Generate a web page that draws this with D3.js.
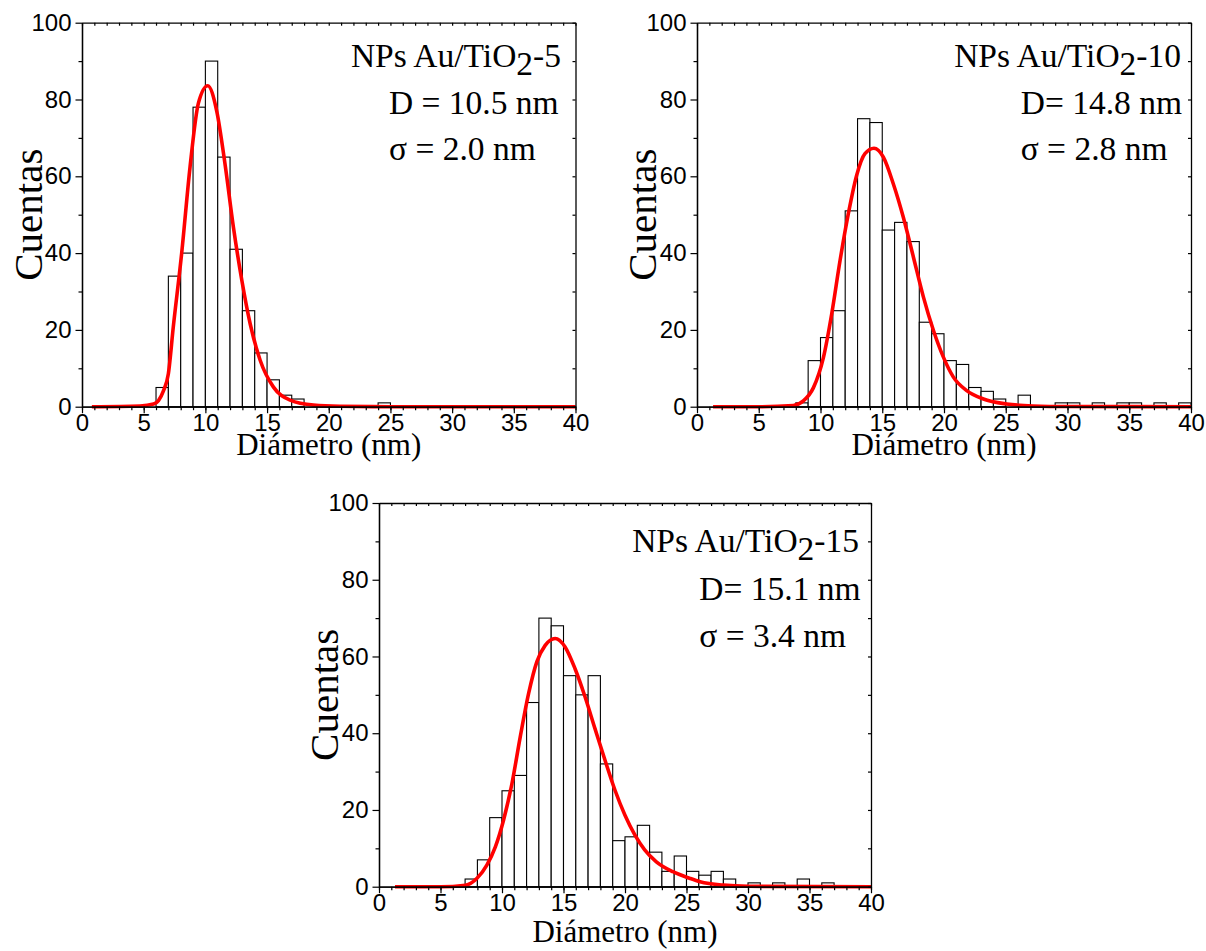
<!DOCTYPE html>
<html><head><meta charset="utf-8">
<script src="https://cdn.jsdelivr.net/npm/d3@7"></script>
<style>body{margin:0;background:#fff}</style>
</head><body>
<svg id="chart" width="1206" height="951" xmlns="http://www.w3.org/2000/svg"></svg>
<script>
// ---------- DATA ----------
// histogram bins: bin i spans [i, i+1] nm
const binStarts = d3.range(0, 40);
const countsAu5 = [0,0,0,0,0,0,5,34,40,78,90,65,41,25,14,7,3,2,0,0,0,0,0,0,1,0,0,0,0,0,0,0,0,0,0,0,0,0,0,0];
const countsAu10 = [0,0,0,0,0,0,0,0,1,12,18,25,51,75,74,46,48,43,22,19,12,11,5,4,2,0,3,0,0,1,1,0,1,0,1,1,0,1,0,1];
const countsAu15 = [0,0,0,0,0,0,0,2,7,18,25,29,48,70,68,55,50,55,32,12,13,16,9,4,8,4,3,4,2,0,1,0,1,0,2,0,1,0,0,0];

// fitted curves, points
const fitXAu5 = [0.8,4.7,5.8,6.2,6.6,7.0,7.4,8.08,8.76,9.43,10.19,10.92,11.6,12.27,12.95,13.63,14.44,15.52,16.87,18.76,20.9,25,40];
const fitYAu5 = [0,0.2,0.7,1.6,4.1,8.6,20.8,40,62.5,79,83.6,77,63,46.8,33,21.6,12.1,5.1,1.7,0.4,0.1,0,0];
const fitXAu10 = [1.3,5.1,7.8,8.61,9.42,10.23,10.9,11.58,12.25,12.93,13.6,14.33,15.09,15.9,16.7,17.52,18.33,19.14,19.95,20.76,21.84,23.19,25.08,27.2,30,40];
const fitYAu10 = [0,0,0.3,1.5,4.9,12.7,24,38,50.2,60.3,65.9,67.3,65,58,49.4,39,28.6,19.9,12.9,7.7,4.2,2.0,0.7,0.2,0.05,0];
const fitXAu15 = [1.3,5.0,7.03,7.97,8.78,9.46,10.13,10.81,11.48,12.16,12.83,13.51,14.32,15.13,15.94,16.75,17.56,18.37,19.18,19.99,20.8,21.6,22.55,23.9,25.25,26.1,28.0,30,40];
const fitYAu15 = [0,0,0.4,2.2,5.7,10.4,17.4,26.9,39,50.3,58.6,62.9,64.7,62.5,56.8,49.5,41.2,33,25.2,18.7,13.5,9.6,6.5,3.9,2.2,1.3,0.4,0.1,0];

const sampleNames = ["5", "10", "15"];
const meanLabels = ["D = 10.5 nm", "D= 14.8 nm", "D= 15.1 nm"];
const sigmaLabels = ["σ = 2.0 nm", "σ = 2.8 nm", "σ = 3.4 nm"];

const xMajorTicks = [0,5,10,15,20,25,30,35,40];
const xMinorTicks = d3.range(0, 41, 1);
const yMajorTicks = [0,20,40,60,80,100];
const yMinorTicks = [10,30,50,70,90];
const xTitle = "Diámetro (nm)";
const yTitle = "Cuentas";

// ---------- LAYOUT ----------
const panels = [
  {left:82, right:575.5, top:22.7, bottom:406.7, counts:countsAu5, fx:fitXAu5, fy:fitYAu5,
   l1End:561, l23Start:389, base:[66.7,114.3,160], yTitleX:28, xTitleY:455},
  {left:697, right:1191, top:22.7, bottom:406.7, counts:countsAu10, fx:fitXAu10, fy:fitYAu10,
   l1End:1181, l23Start:1020.7, base:[66.7,114,160], yTitleX:642, xTitleY:455},
  {left:379, right:871, top:503, bottom:886.7, counts:countsAu15, fx:fitXAu15, fy:fitYAu15,
   l1End:859, l23Start:699.3, base:[551.7,600,646.7], yTitleX:324, xTitleY:942}
];

const svg = d3.select("#chart");
svg.append("rect").attr("width",1206).attr("height",951).attr("fill","#fff");

const serif = "'Liberation Serif','Times New Roman',serif";
const sans = "'Liberation Sans',Arial,sans-serif";

panels.forEach((p, k) => {
  const x = d3.scaleLinear().domain([0,40]).range([p.left, p.right]);
  const y = d3.scaleLinear().domain([0,100]).range([p.bottom, p.top]);
  const g = svg.append("g");

  // bars
  g.append("g").selectAll("rect")
    .data(binStarts.map((s,i)=>({s, c:p.counts[i]})).filter(d=>d.c>0))
    .join("rect")
    .attr("x", d=>x(d.s)).attr("width", d=>x(d.s+1)-x(d.s))
    .attr("y", d=>y(d.c)).attr("height", d=>y(0)-y(d.c))
    .attr("fill","#fff").attr("stroke","#000").attr("stroke-width",1.1);

  // fit curve
  const pts = p.fx.map((v,i)=>[v, p.fy[i]]);
  g.append("path").datum(pts)
    .attr("d", d3.line().x(d=>x(d[0])).y(d=>y(d[1])).curve(d3.curveMonotoneX))
    .attr("fill","none").attr("stroke","#ff0000").attr("stroke-width",3.6)
    .attr("stroke-linejoin","round");

  // axes
  const styleAxis = sel => {
    sel.selectAll("path.domain").attr("stroke","#000").attr("stroke-width",1.3);
    sel.selectAll(".tick line").attr("stroke","#000").attr("stroke-width",1.2);
    sel.selectAll(".tick text").attr("font-family",sans).attr("font-size",24).attr("fill","#000");
  };
  g.append("g").attr("transform",`translate(0,${p.bottom})`)
    .call(d3.axisBottom(x).tickValues(xMinorTicks).tickSize(3.5).tickSizeOuter(0).tickFormat(""))
    .call(styleAxis);
  g.append("g").attr("transform",`translate(0,${p.bottom})`)
    .call(d3.axisBottom(x).tickValues(xMajorTicks).tickSize(6.5).tickSizeOuter(0).tickPadding(1).tickFormat(d3.format("d")))
    .call(styleAxis);
  g.append("g").attr("transform",`translate(${p.left},0)`)
    .call(d3.axisLeft(y).tickValues(yMinorTicks).tickSize(3.5).tickSizeOuter(0).tickFormat(""))
    .call(styleAxis);
  g.append("g").attr("transform",`translate(${p.left},0)`)
    .call(d3.axisLeft(y).tickValues(yMajorTicks).tickSize(6.5).tickSizeOuter(0).tickPadding(4).tickFormat(d3.format("d")))
    .call(styleAxis);
  g.append("g").attr("transform",`translate(0,${p.top})`)
    .call(d3.axisBottom(x).tickValues(xMinorTicks).tickSize(3).tickSizeOuter(0).tickFormat(""))
    .call(styleAxis);
  g.append("g").attr("transform",`translate(${p.right},0)`)
    .call(d3.axisLeft(y).tickValues(yMajorTicks.concat(yMinorTicks)).tickSize(3).tickSizeOuter(0).tickFormat(""))
    .call(styleAxis);

  // titles
  g.append("text").attr("transform",`translate(${p.yTitleX},${(p.top+p.bottom)/2}) rotate(-90)`)
    .attr("text-anchor","middle").attr("dominant-baseline","central")
    .attr("font-family",serif).attr("font-size",41).text(yTitle);
  g.append("text").attr("x",(p.left+p.right)/2).attr("y",p.xTitleY)
    .attr("text-anchor","middle").attr("font-family",serif).attr("font-size",31).text(xTitle);

  // annotation
  const t1 = g.append("text").attr("x",p.l1End).attr("y",p.base[0]).attr("text-anchor","end")
    .attr("font-family",serif).attr("font-size",33.5);
  t1.append("tspan").text("NPs Au/TiO");
  t1.append("tspan").attr("dy",8).text("2");
  t1.append("tspan").attr("dy",-8).text("-" + sampleNames[k]);
  g.append("text").attr("x",p.l23Start).attr("y",p.base[1])
    .attr("font-family",serif).attr("font-size",33.5).text(meanLabels[k]);
  g.append("text").attr("x",p.l23Start).attr("y",p.base[2])
    .attr("font-family",serif).attr("font-size",33.5).text(sigmaLabels[k]);
});
</script>
</body></html>
